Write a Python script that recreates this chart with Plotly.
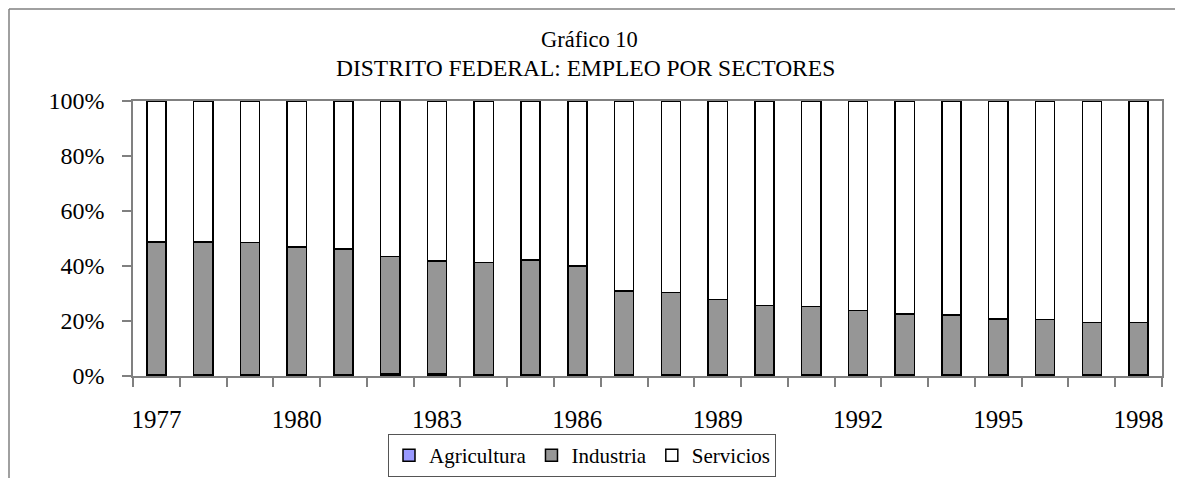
import plotly.graph_objects as go

years = list(range(1977, 1999))
agricultura = [0.4, 0.3, 0.3, 0.4, 0.4, 0.8, 0.8, 0.5, 0.5, 0.4, 0.3, 0.3,
               0.3, 0.3, 0.3, 0.3, 0.3, 0.3, 0.3, 0.3, 0.3, 0.3]
industria_total = [48.8, 48.8, 48.5, 46.9, 46.2, 43.4, 41.8, 41.3, 42.1, 40.0, 30.9, 30.3,
                   27.8, 25.7, 25.2, 23.9, 22.5, 22.2, 20.8, 20.6, 19.5, 19.5]
industria = [round(t - a, 2) for t, a in zip(industria_total, agricultura)]
servicios = [round(100 - t, 2) for t in industria_total]
tick_years = [1977, 1980, 1983, 1986, 1989, 1992, 1995, 1998]
y_ticks = [0, 20, 40, 60, 80, 100]
y_labels = ["0%", "20%", "40%", "60%", "80%", "100%"]

FONT = "Liberation Serif"
line = dict(color="#000000", width=1.5)

# page has an 8px body margin; figure is 1175x470 so it fills the 1183x478 window
OFF = 8
W, H = 1183 - OFF, 478 - OFF
# target plot area in window pixels: x 133..1162, y 101..376
PW, PH = 1029, 275
def px(x):
    return (x - 133) / PW
def py(y):
    return (376 - y) / PH

fig = go.Figure()
fig.add_bar(x=years, y=agricultura, name="Agricultura", marker=dict(color="#9999FF", line=line), width=0.41)
fig.add_bar(x=years, y=industria, name="Industria", marker=dict(color="#969696", line=line), width=0.41)
fig.add_bar(x=years, y=servicios, name="Servicios", marker=dict(color="#FFFFFF", line=line), width=0.41)

fig.update_layout(
    width=W, height=H,
    barmode="stack",
    margin=dict(l=133 - OFF, r=W - (1162 - OFF), t=101 - OFF, b=H - (376 - OFF), autoexpand=False),
    paper_bgcolor="white", plot_bgcolor="white",
    font=dict(family=FONT, color="black"),
    showlegend=True,
    legend=dict(orientation="h", x=px(582), xanchor="center", y=py(434), yanchor="top",
                bordercolor="#555555", borderwidth=1, font=dict(size=21, family=FONT),
                traceorder="normal", itemwidth=30),
    xaxis=dict(range=[1976.5, 1998.5], tickmode="array", tickvals=tick_years,
               ticktext=[str(y) for y in tick_years], ticks="", showgrid=False,
               showline=True, linecolor="#808080", linewidth=1.5, mirror=True,
               tickfont=dict(size=25, family=FONT), ticklabelstandoff=20,
               minor=dict(tickmode="linear", tick0=1976.5, dtick=1, ticks="outside",
                          ticklen=9, tickcolor="#808080", tickwidth=1.5, showgrid=False),
               zeroline=False),
    yaxis=dict(range=[0, 100], tickmode="array", tickvals=y_ticks, ticktext=y_labels,
               ticks="outside", ticklen=9, tickcolor="#808080", tickwidth=1.5,
               showgrid=False, showline=True, linecolor="#808080", linewidth=1.5, mirror=True,
               tickfont=dict(size=24, family=FONT), ticklabelstandoff=13, zeroline=False),
    annotations=[
        dict(text="Gráfico 10", xref="paper", yref="paper", x=px(589), y=py(40),
             xanchor="center", yanchor="middle", showarrow=False, font=dict(size=22.5, family=FONT)),
        dict(text="DISTRITO FEDERAL: EMPLEO POR SECTORES", xref="paper", yref="paper",
             x=px(585), y=py(68), xanchor="center", yanchor="middle", showarrow=False,
             font=dict(size=23.5, family=FONT)),
    ],
    shapes=[
        dict(type="line", xref="paper", yref="paper", x0=px(9), x1=px(1185),
             y0=py(9), y1=py(9), line=dict(color="#808080", width=1.5)),
        dict(type="line", xref="paper", yref="paper", x0=px(9), x1=px(9),
             y0=py(9), y1=py(480), line=dict(color="#808080", width=1.5)),
    ],
)

fig.write_html("out.html")
